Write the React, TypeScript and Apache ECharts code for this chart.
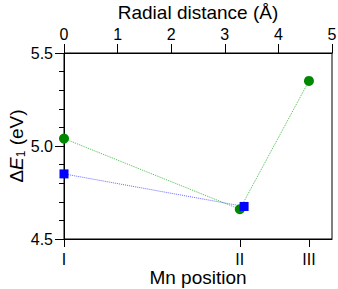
import React, { useEffect, useRef } from "react";
import * as echarts from "echarts";

const positionLabels = ["I", "II", "III"];
const positionValues = [0, 3.28, 4.57];
const radialTicks = [0, 1, 2, 3, 4, 5];

const greenX = [0, 3.28, 4.57];
const greenY = [5.04, 4.66, 5.35];
const blueX = [0, 3.36];
const blueY = [4.85, 4.675];

const FONT = "Liberation Sans, Arial, Helvetica, sans-serif";

export default function App() {
  const ref = useRef<HTMLDivElement>(null);
  useEffect(() => {
    const chart = echarts.init(ref.current!, null, { renderer: "svg" });
    const labelMap: Record<string, string> = {};
    positionValues.forEach((v, i) => (labelMap[String(v)] = positionLabels[i]));
    chart.setOption({
      animation: false,
      grid: {
        left: 64, right: 6, top: 53, bottom: 50,
        outerBoundsMode: "none", containLabel: false,
        show: true, borderColor: "#000", borderWidth: 1, backgroundColor: "transparent",
      },
      xAxis: [
        {
          type: "value",
          position: "bottom",
          min: 0,
          max: 5,
          name: "Mn position",
          nameLocation: "middle",
          nameGap: 27,
          nameMoveOverlap: false,
          nameTextStyle: { fontFamily: FONT, fontSize: 19, color: "#000", lineHeight: 22 },
          axisLine: { show: true, lineStyle: { color: "#000", width: 1 } },
          axisTick: { show: true, length: 8, customValues: positionValues, lineStyle: { color: "#000" } },
          axisLabel: {
            customValues: positionValues,
            margin: 12,
            fontFamily: FONT,
            fontSize: 16,
            color: "#000",
            formatter: (v: number) => labelMap[String(v)] ?? "",
          },
          splitLine: { show: false },
        },
        {
          type: "value",
          position: "top",
          min: 0,
          max: 5,
          interval: 1,
          name: "Radial distance (Å)",
          nameLocation: "middle",
          nameGap: 30,
          nameMoveOverlap: false,
          nameTextStyle: { fontFamily: FONT, fontSize: 19, color: "#000", lineHeight: 22 },
          axisLine: { show: true, lineStyle: { color: "#000", width: 1 } },
          axisTick: { show: true, length: 9, lineStyle: { color: "#000" } },
          axisLabel: {
            margin: 11,
            fontFamily: FONT,
            fontSize: 16,
            color: "#000",
            formatter: (v: number) => (radialTicks.includes(v) ? String(v) : ""),
          },
          splitLine: { show: false },
        },
      ],
      yAxis: {
        type: "value",
        min: 4.5,
        max: 5.5,
        interval: 0.5,
        name: "{n|Δ}{i|E}{s|1}{n| (eV)}",
        nameLocation: "middle",
        nameGap: 37,
        nameMoveOverlap: false,
        nameTextStyle: {
          fontFamily: FONT,
          fontSize: 19,
          color: "#000",
          rich: {
            n: { fontFamily: FONT, fontSize: 19, color: "#000", lineHeight: 22 },
            i: { fontFamily: FONT, fontSize: 19, fontStyle: "italic", color: "#000", lineHeight: 22 },
            s: { fontFamily: FONT, fontSize: 12, color: "#000", lineHeight: 22, verticalAlign: "bottom", padding: [7, 0, 0, 0] },
          },
        },
        axisLine: { show: true, lineStyle: { color: "#000", width: 1 } },
        axisTick: { show: true, length: 9, lineStyle: { color: "#000" } },
        minorTick: { show: true, splitNumber: 5, length: 5, lineStyle: { color: "#000" } },
        axisLabel: {
          margin: 11,
          fontFamily: FONT,
          fontSize: 16,
          color: "#000",
          formatter: (v: number) => v.toFixed(1),
        },
        splitLine: { show: false },
      },
      series: [
        {
          type: "line",
          xAxisIndex: 0,
          data: greenX.map((x, i) => [x, greenY[i]]),
          symbol: "circle",
          symbolSize: 10,
          itemStyle: { color: "#008800" },
          lineStyle: { color: "#22aa22", width: 1, type: "dotted", opacity: 0.8 },
          z: 2,
        },
        {
          type: "line",
          xAxisIndex: 0,
          data: blueX.map((x, i) => [x, blueY[i]]),
          symbol: "rect",
          symbolSize: 9,
          itemStyle: { color: "#0000ff" },
          lineStyle: { color: "#4444ff", width: 1, type: "dotted", opacity: 0.8 },
          z: 3,
        },
      ],
    });
    return () => chart.dispose();
  }, []);
  return <div ref={ref} style={{ width: 338, height: 289, position: "absolute", left: 0, top: 0 }} />;
}
